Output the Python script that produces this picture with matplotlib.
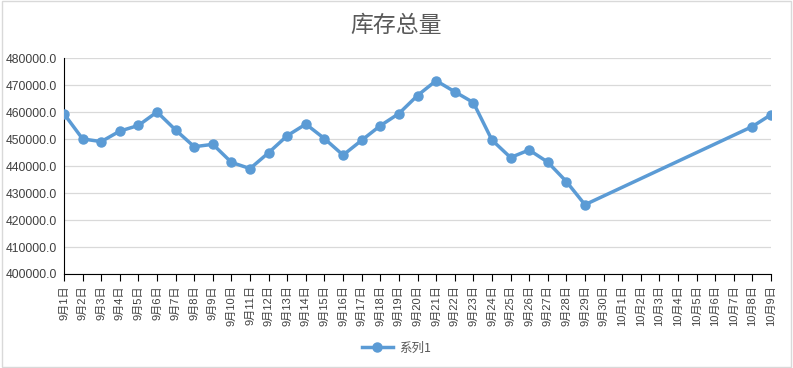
import numpy as np
import matplotlib
matplotlib.use("Agg")
import matplotlib.pyplot as plt
from matplotlib.patches import Rectangle

plt.rcParams['font.family'] = ['Liberation Sans', 'Noto Sans CJK SC', 'DejaVu Sans']

categories = [f"9月{d}日" for d in range(1, 31)] + [f"10月{d}日" for d in range(1, 10)]
values = [459400, 450100, 449100, 453000, 455100, 460100, 453400, 447200, 448100, 441400,
          439100, 445000, 451300, 455600, 450200, 444100, 449600, 455000, 459500, 466200,
          471700, 467600, 463600, 449700, 443200, 446000, 441500, 434300, 425700, np.nan,
          np.nan, np.nan, np.nan, np.nan, np.nan, np.nan, np.nan, 454700, 459100]
series_name = "系列1"
title = "库存总量"
yticks = [400000, 410000, 420000, 430000, 440000, 450000, 460000, 470000, 480000]

color = "#5b9bd5"
fig = plt.figure(figsize=(7.93, 3.68), dpi=100)
ax = fig.add_axes([64/793, 1-274/368, (771-64)/793, (274-58.3)/368])

x = np.arange(len(categories))
v = np.array(values, dtype=float)
mask = ~np.isnan(v)
ax.plot(x[mask], v[mask], color=color, lw=2.5, marker='o', ms=6.5,
        markerfacecolor=color, markeredgecolor=color, label=series_name,
        solid_joinstyle='round', zorder=3)

ax.set_xlim(0, len(categories)-1)
ax.set_ylim(400000, 480000)
ax.set_yticks(yticks)
ax.set_yticklabels([f"{t:.1f}" for t in yticks], fontsize=8.7, color="#404040")
ax.tick_params(axis='y', length=0, pad=5)
ax.set_xticks(x)
ax.set_xticklabels(categories, rotation=90, fontsize=8, color="#404040")
ax.tick_params(axis='x', length=5, width=0.8, color='black', pad=3, direction='out')
ax.grid(axis='y', color='#d9d9d9', lw=0.9)
ax.set_axisbelow(True)
for s in ['top', 'right']:
    ax.spines[s].set_visible(False)
ax.spines['left'].set_color('black')
ax.spines['bottom'].set_color('black')
ax.spines['left'].set_linewidth(0.8)
ax.spines['bottom'].set_linewidth(0.8)

fig.text(0.5, 1-25/368, title, ha='center', va='center', fontsize=16.5,
         color='#595959', family=['Noto Sans CJK SC'])

leg = fig.legend(loc='center', bbox_to_anchor=(0.5, 1-348/368), frameon=False,
                 prop={'family': ['Noto Sans CJK SC'], 'size': 9}, handlelength=2.5,
                 handletextpad=0.5)
for t in leg.get_texts():
    t.set_color('#595959')

fig.patches.append(Rectangle((0.002, 0.003), 0.996, 0.994, transform=fig.transFigure,
                             fill=False, edgecolor='#d9d9d9', lw=1))

fig.savefig("out.png", dpi=100)
